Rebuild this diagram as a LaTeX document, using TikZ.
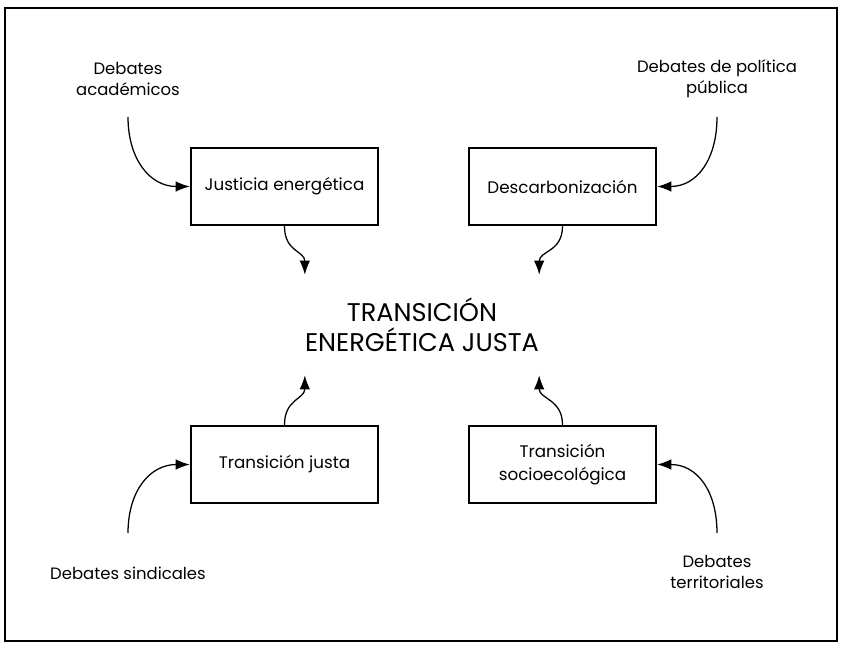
\documentclass[tikz,border=0pt]{standalone}
\usepackage{fontspec}
\setmainfont{Poppins}
\usetikzlibrary{shapes,arrows.meta,positioning}

\begin{document}
\begin{tikzpicture}[
    x=0.025cm, y=-0.025cm,
    box/.style={rectangle, draw, line width=1.7pt, minimum width=4.675cm, minimum height=1.925cm, align=center, font=\fontsize{11.9}{16.4}\selectfont},
    debate/.style={align=center, font=\fontsize{11.7}{15}\selectfont},
    arrow/.style={-{Latex[length=10pt,width=7.5pt]}, line width=0.9pt}
]
    \useasboundingbox (0,0) rectangle (841,644);
    % Frame
    \draw[line width=1.5pt] (5,8) rectangle (837,641);

    % Centre
    \node[align=center, inner sep=0pt, minimum width=5.775cm, minimum height=2.5cm, font=\fontsize{18.2}{21.3}\selectfont] (tej) at (422,325) {TRANSICIÓN\\ENERGÉTICA JUSTA};

    % Boxes
    \node[box] (jus) at (284.5,186.5) {Justicia energética};
    \node[box] (desc) at (562.5,186.5) {Descarbonización};
    \node[box] (tjus) at (284.5,464.5) {Transición justa};
    \node[box] (tsoc) at (562.5,464.5) {Transición\\socioecológica};

    % Debates
    \node[debate] (acad) at (128,79) {Debates\\académicos};
    \node[debate] (pol) at (717,79) {Debates de política\\pública};
    \node[debate] (sind) at (128,573) {Debates sindicales};
    \node[debate] (terr) at (717,572) {Debates\\territoriales};

    \coordinate (acad-out) at (128,117);
    \coordinate (pol-out) at (717,117);
    \coordinate (sind-out) at (128,533);
    \coordinate (terr-out) at (717,533);

    % Arrows
    \draw[arrow] (acad-out) .. controls +(0,42) and +(-40,0) .. (jus.west);
    \draw[arrow] (pol-out) .. controls +(0,42) and +(40,0) .. (desc.east);
    \draw[arrow] (sind-out) .. controls +(0,-42) and +(-40,0) .. (tjus.west);
    \draw[arrow] (terr-out) .. controls +(0,-42) and +(40,0) .. (tsoc.east);
    \draw[arrow] (jus.south) .. controls +(0,26) and +(0,-24) .. (tej.north west);
    \draw[arrow] (desc.south) .. controls +(0,26) and +(0,-24) .. (tej.north east);
    \draw[arrow] (tjus.north) .. controls +(0,-26) and +(0,24) .. (tej.south west);
    \draw[arrow] (tsoc.north) .. controls +(0,-26) and +(0,24) .. (tej.south east);
\end{tikzpicture}
\end{document}
